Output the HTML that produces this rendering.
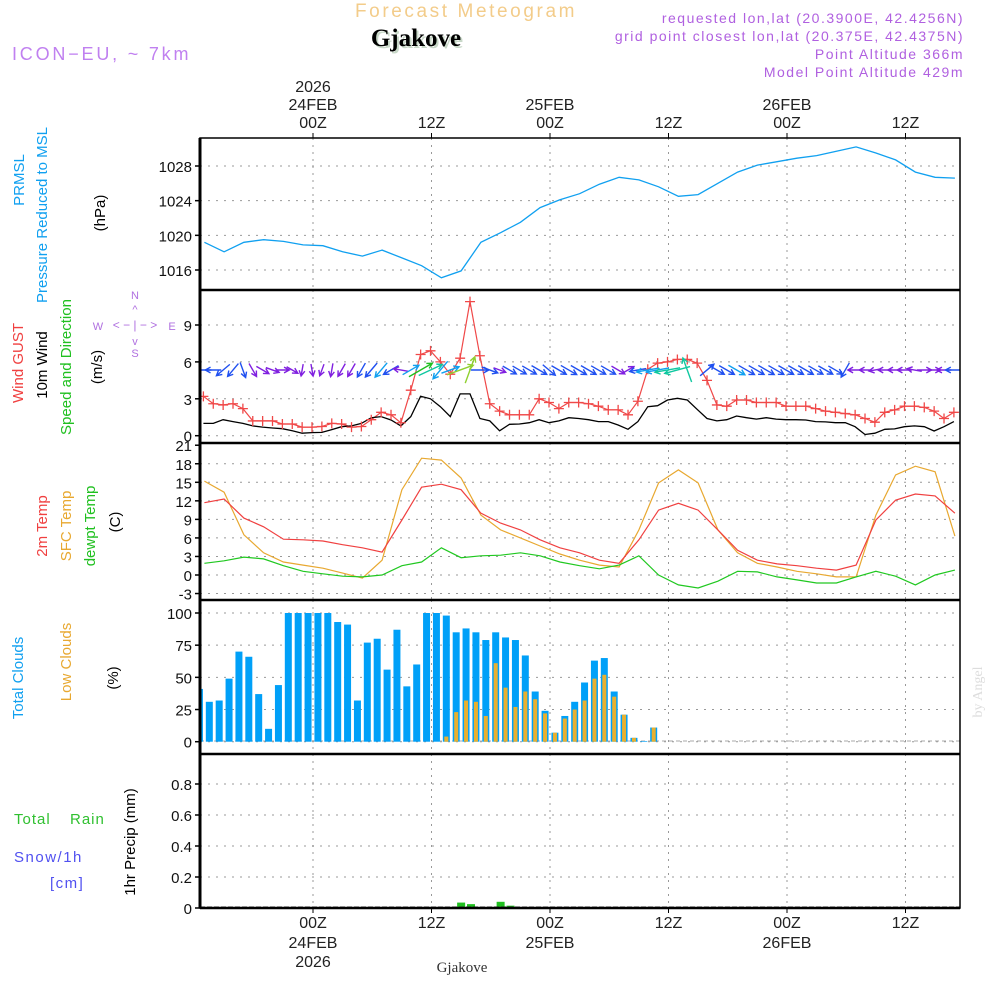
<!DOCTYPE html>
<html><head><meta charset="utf-8"><style>
body{margin:0;background:#fff;}
svg{display:block;font-family:"Liberation Sans",sans-serif;}
</style></head><body>
<svg id="c" width="1000" height="1000" viewBox="0 0 1000 1000">
<g>
<text x="466" y="17" font-size="19" fill="#f3cc8a" text-anchor="middle" letter-spacing="2.6">Forecast Meteogram</text>
<text x="418" y="48" font-size="25" font-weight="bold" font-family="Liberation Serif,serif" fill="#c8d8c8" text-anchor="middle">Gjakove</text>
<text x="416" y="46" font-size="25" font-weight="bold" font-family="Liberation Serif,serif" fill="#000" text-anchor="middle">Gjakove</text>
<text x="12" y="60" font-size="18" fill="#c080f0" letter-spacing="2.8">ICON−EU, ~ 7km</text>
<g font-size="14" fill="#b060e0" text-anchor="end" letter-spacing="1.5">
<text x="964" y="23">requested lon,lat (20.3900E, 42.4256N)</text>
<text x="964" y="41">grid point closest lon,lat (20.375E, 42.4375N)</text>
<text x="964" y="59">Point Altitude 366m</text>
<text x="964" y="77">Model Point Altitude 429m</text>
</g>
</g>
<g id="g"></g>
</svg>
<script>
const hours = [-12,0,12,24,36,48,60];
const topTimeLbl = ["","00Z","12Z","00Z","12Z","00Z","12Z"];
const dayLbl = {0:"24FEB",24:"25FEB",48:"26FEB"};
const presTicks=[1016,1020,1024,1028];
const windTicks=[0,3,6,9];
const tempTicks=[-3,0,3,6,9,12,15,18,21];
const cloudTicks=[0,25,50,75,100];
const precTicks=[0,0.2,0.4,0.6,0.8];
// 2-hourly from h=-11
const pressure=[1019.2,1018.1,1019.2,1019.5,1019.3,1018.9,1018.8,1018.1,1017.6,1018.3,1017.4,1016.5,1015.1,1015.9,1019.2,1020.3,1021.5,1023.2,1024.1,1024.8,1025.9,1026.7,1026.4,1025.6,1024.5,1024.7,1026.0,1027.3,1028.1,1028.5,1028.9,1029.2,1029.7,1030.2,1029.5,1028.7,1027.3,1026.7,1026.6];
const temp2m=[11.7,12.3,9.2,7.8,5.8,5.7,5.5,4.9,4.4,3.7,8.9,14.2,14.7,13.8,10.0,8.4,7.3,5.7,4.4,3.6,2.4,1.9,5.7,10.5,11.6,10.5,7.3,4.0,2.4,1.8,1.5,1.1,0.8,1.6,8.9,12.1,13.1,12.8,10.0];
const tempSfc=[15.2,13.4,6.5,3.6,2.1,1.6,1.1,0.3,-0.5,2.4,13.8,18.9,18.6,15.7,9.7,7.3,6.0,4.7,3.4,2.4,1.6,1.3,7.3,14.9,17.0,14.9,7.3,3.6,1.9,1.3,0.6,0.2,-0.3,-0.3,9.7,16.2,17.6,16.7,6.3];
const dewpt=[1.9,2.3,2.9,2.6,1.5,0.6,0.2,-0.2,-0.3,0,1.5,2.1,4.4,2.8,3.1,3.2,3.6,3.1,2.1,1.5,1.0,1.6,3.1,0,-1.6,-2.1,-1.0,0.6,0.5,-0.3,-0.8,-1.3,-1.3,-0.3,0.6,-0.2,-1.6,0,0.8];
// hourly from h=-11.1
const gust=[3.2,2.6,2.5,2.6,2.2,1.2,1.2,1.2,0.95,0.95,0.7,0.7,0.75,1.0,0.95,0.7,0.75,1.3,1.9,1.7,1.05,3.7,6.6,6.9,6.0,5.0,6.3,10.9,6.5,2.6,2.0,1.7,1.7,1.7,3.0,2.7,2.2,2.7,2.7,2.6,
2.4,2.1,2.1,1.7,2.8,5.4,5.9,6.0,6.2,6.2,5.9,4.5,2.5,2.4,2.9,2.9,2.7,2.7,2.7,2.4,2.4,2.4,2.2,2.0,1.9,1.8,1.7,1.4,1.1,1.9,2.1,2.4,2.4,2.3,2.0,1.4,1.9];
const wind=[1.0,1.0,1.3,1.15,1.0,0.8,0.7,0.63,0.57,0.4,0.2,0.25,0.27,0.5,0.73,0.8,1.0,1.46,1.55,1.28,0.8,1.55,3.2,3.0,2.36,1.55,3.4,3.4,1.4,1.2,0.4,0.93,0.95,1.06,1.3,1.06,1.2,1.46,1.4,1.3,
1.15,1.15,0.87,0.52,1.15,2.36,2.44,2.9,3.04,2.9,2.15,1.4,1.2,1.3,1.6,1.46,1.35,1.46,1.35,1.3,1.3,1.28,1.15,1.12,1.06,1.06,0.73,0.1,0.2,0.52,0.55,0.73,0.8,0.73,0.38,0.73,1.15];
const windDir=[90,90,50,40,340,330,300,290,270,300,10,350,20,10,30,30,30,40,40,60,100,240,240,245,40,250,250,200,270,290,290,300,300,300,300,310,300,300,300,300,
300,300,300,240,80,80,80,80,75,160,-1,230,300,300,300,300,300,300,300,300,300,300,300,300,300,30,90,90,80,90,90,90,100,270,270,90,90];
// hourly bars from h=-11.5
const cloudTotal=[41,31,32,49,70,66,37,10,44,100,100,100,100,100,93,91,32,77,80,56,87,43,60,100,100,98,85,88,85,79,85,81,79,67,39,24,7,20,31,46,63,65,39,21,3,0.5,11];
const cloudLow=[0,0,0,0,0,0,0,0,0,0,0,0,0,0,0,0,0,0,0,0,0,0,0,0,0,4,23,32,31,20,61,42,27,39,33,22,7,18,25,32,49,52,35,21,3,0,11];
const precipHours=[15,16,19,20];
const precip=[0.035,0.025,0.04,0.015];

const NS='http://www.w3.org/2000/svg';
const G=document.getElementById('g');
function el(t,a,p){const e=document.createElementNS(NS,t);for(const k in a)e.setAttribute(k,a[k]);(p||G).appendChild(e);return e;}
const X0=200,X1=960;
const xOf=h=>313+h*9.875;
const panels=[
 {y0:138,y1:290,f:v=>166+(1028-v)*8.667,ticks:presTicks,name:'pressure-panel'},
 {y0:290,y1:443,f:v=>435.7-v*12.3,ticks:windTicks,name:'wind-panel'},
 {y0:443,y1:600,f:v=>575-v*6.18,ticks:tempTicks,name:'temp-panel'},
 {y0:600,y1:754,f:v=>741.7-v*1.287,ticks:cloudTicks,name:'cloud-panel'},
 {y0:754,y1:908,f:v=>908-v*155,ticks:precTicks,name:'precip-panel'}];
const clip=el('clipPath',{id:'cp'});el('rect',{x:X0,y:138,width:X1-X0,height:770},clip);
panels.forEach((p,pi)=>{
 const g=el('g',{});
 
 
 hours.forEach(h=>{const x=xOf(h);if(x<X0)return;
  const l=el('line',{x1:x,x2:x,y1:p.y0,y2:p.y1,stroke:'#999','stroke-dasharray':'2,5'},g);
  });
 p.ticks.forEach(v=>{const y=p.f(v);
  if(y>p.y0+3&&y<p.y1-3){const l=el('line',{x1:X0,x2:X1,y1:y,y2:y,stroke:'#999','stroke-dasharray':'2,6'},g);
   }
  el('line',{x1:195,x2:X0,y1:y,y2:y,stroke:'#000','stroke-width':1.5},g);
  const t=el('text',{x:192,y:y+6,'font-size':15,'text-anchor':'end',fill:'#111'},g);
  t.textContent=String(v);
  
 });
});
const pg=el('g',{'clip-path':'url(#cp)'});
function poly(vals,h0,step,f,col,w,name){
 const pts=vals.map((v,i)=>xOf(h0+i*step).toFixed(1)+','+f(v).toFixed(1)).join(' ');
 const e=el('polyline',{points:pts,fill:'none',stroke:col,'stroke-width':w},pg);
 return e;}
poly(pressure,-11,2,panels[0].f,'#10a0f0',1.3,'pressure-line');
poly(gust,-11.1,1,panels[1].f,'#f04848',1.2,'gust-line');
poly(wind,-11.1,1,panels[1].f,'#000',1.3,'wind-speed-line');
gust.forEach((v,i)=>{const x=xOf(-11.1+i),y=panels[1].f(v);
 const m=el('path',{d:`M${x-5},${y}h10M${x},${y-5}v10`,stroke:'#f04848','stroke-width':1.3},pg);
 });
function spdCol(s){return s<0.9?'#8020e0':s<1.5?'#2050f0':s<2.5?'#10a0f0':s<3.1?'#10c8a0':s<3.3?'#20c020':'#90d030';}
windDir.forEach((d,i)=>{if(d<0)return;const s=wind[i];const x=xOf(-11.1+i),y=370;
 const L=11+s*5,r=d*Math.PI/180,dx=-Math.sin(r),dy=Math.cos(r);
 const x1=x-dx*L/2,y1=y-dy*L/2,x2=x+dx*L/2,y2=y+dy*L/2;
 const a=Math.atan2(dy,dx),hl=6;
 const hx1=x2-hl*Math.cos(a-0.5),hy1=y2-hl*Math.sin(a-0.5),hx2=x2-hl*Math.cos(a+0.5),hy2=y2-hl*Math.sin(a+0.5);
 const ar=el('path',{d:`M${x1},${y1}L${x2},${y2}M${hx1},${hy1}L${x2},${y2}L${hx2},${hy2}`,stroke:spdCol(s),'stroke-width':1.4,fill:'none'},pg);
 });
poly(tempSfc,-11,2,panels[2].f,'#e8a830',1.2,'sfc-temp-line');
poly(temp2m,-11,2,panels[2].f,'#f04040',1.2,'temp-2m-line');
poly(dewpt,-11,2,panels[2].f,'#20c820',1.2,'dewpoint-line');
const zl=el('line',{x1:X0,x2:X1,y1:741,y2:741,stroke:'#aaa','stroke-dasharray':'4,3'},pg);

cloudTotal.forEach((v,i)=>{const x=xOf(-11.5+i),y=panels[3].f(v);
 const b=el('rect',{x:x-3.5,y:y,width:7,height:741.7-y,fill:'#00a0f8'},pg);
 });
cloudLow.forEach((v,i)=>{if(v<=0)return;const x=xOf(-11.5+i),y=panels[3].f(v);
 const b=el('rect',{x:x-2,y:y,width:4,height:741.7-y,fill:'#e8b030'},pg);
 });
precip.forEach((v,i)=>{const x=xOf(precipHours[i]),y=panels[4].f(v);
 const b=el('rect',{x:x-4,y:y,width:8,height:908-y,fill:'#20c020'},pg);
 });
const pz=el('line',{x1:X0,x2:X1,y1:907,y2:907,stroke:'#333','stroke-dasharray':'5,2'},pg);

const fr=el('rect',{x:X0,y:138,width:X1-X0,height:770,fill:'none',stroke:'#000','stroke-width':1.5});

el('line',{x1:X0,x2:X0,y1:138,y2:908,stroke:'#000','stroke-width':3});
[290,443,600,754,908].forEach(y=>{const l=el('line',{x1:X0,x2:X1,y1:y,y2:y,stroke:'#000','stroke-width':2.5});
 });
hours.forEach((h,i)=>{if(h<0)return;const x=xOf(h);
 el('line',{x1:x,x2:x,y1:133,y2:138,stroke:'#000'});
 el('line',{x1:x,x2:x,y1:908,y2:913,stroke:'#000'});
 let t=el('text',{x:x,y:128,'font-size':16,'text-anchor':'middle',fill:'#222'});t.textContent=topTimeLbl[i];
 
 t=el('text',{x:x,y:928,'font-size':16,'text-anchor':'middle',fill:'#222'});t.textContent=topTimeLbl[i];
 
 if(dayLbl[h]){t=el('text',{x:x,y:110,'font-size':16,'text-anchor':'middle',fill:'#222'});t.textContent=dayLbl[h];
  
  t=el('text',{x:x,y:948,'font-size':16,'text-anchor':'middle',fill:'#222'});t.textContent=dayLbl[h];
  }
 if(h===0){t=el('text',{x:x,y:92,'font-size':16,'text-anchor':'middle',fill:'#222'});t.textContent='2026';
  
  t=el('text',{x:x,y:967,'font-size':16,'text-anchor':'middle',fill:'#222'});t.textContent='2026';
  }
});
</script>
<svg width="1000" height="1000" style="position:absolute;left:0;top:0" font-family="Liberation Sans,sans-serif" font-size="15">
<g text-anchor="middle">
<text transform="translate(24,180) rotate(-90)" fill="#10a0f0">PRMSL</text>
<text transform="translate(47,215) rotate(-90)" fill="#10a0f0">Pressure Reduced to MSL</text>
<text transform="translate(105,213) rotate(-90)" fill="#000">(hPa)</text>
<text transform="translate(23,363) rotate(-90)" fill="#f04040">Wind GUST</text>
<text transform="translate(47,365) rotate(-90)" fill="#000">10m Wind</text>
<text transform="translate(71,367) rotate(-90)" fill="#20c020">Speed and Direction</text>
<text transform="translate(102,367) rotate(-90)" fill="#000">(m/s)</text>
<text transform="translate(47,526) rotate(-90)" fill="#f04040">2m Temp</text>
<text transform="translate(71,526) rotate(-90)" fill="#e8a830">SFC Temp</text>
<text transform="translate(95,526) rotate(-90)" fill="#20c020">dewpt Temp</text>
<text transform="translate(120,522) rotate(-90)" fill="#000">(C)</text>
<text transform="translate(23,678) rotate(-90)" fill="#10a0f0">Total Clouds</text>
<text transform="translate(71,662) rotate(-90)" fill="#e8a830">Low Clouds</text>
<text transform="translate(118,678) rotate(-90)" fill="#000">(%)</text>
<text transform="translate(135,842) rotate(-90)" fill="#000">1hr Precip (mm)</text>
<text transform="translate(982,692) rotate(-90)" fill="#ddd" font-family="Liberation Serif,serif" font-size="14">by Angel</text>
</g>
<text x="14" y="824" fill="#30c030" letter-spacing="1">Total  <tspan x="70">Rain</tspan></text>
<text x="14" y="862" fill="#5050f0" letter-spacing="1.5">Snow/1h</text>
<text x="50" y="888" fill="#5050f0" letter-spacing="1.5">[cm]</text>
<g fill="#b070e0" font-size="11" text-anchor="middle">
<text x="135" y="299">N</text><text x="135" y="357">S</text><text x="98" y="330">W</text><text x="172" y="330">E</text>
<text x="135" y="329" font-size="12">&lt; − | − &gt;</text><text x="135" y="313">^</text><text x="135" y="345">v</text>
</g>
<text x="462" y="972" font-family="Liberation Serif,serif" font-size="15" fill="#333" text-anchor="middle">Gjakove</text>
</svg>
</body></html>
